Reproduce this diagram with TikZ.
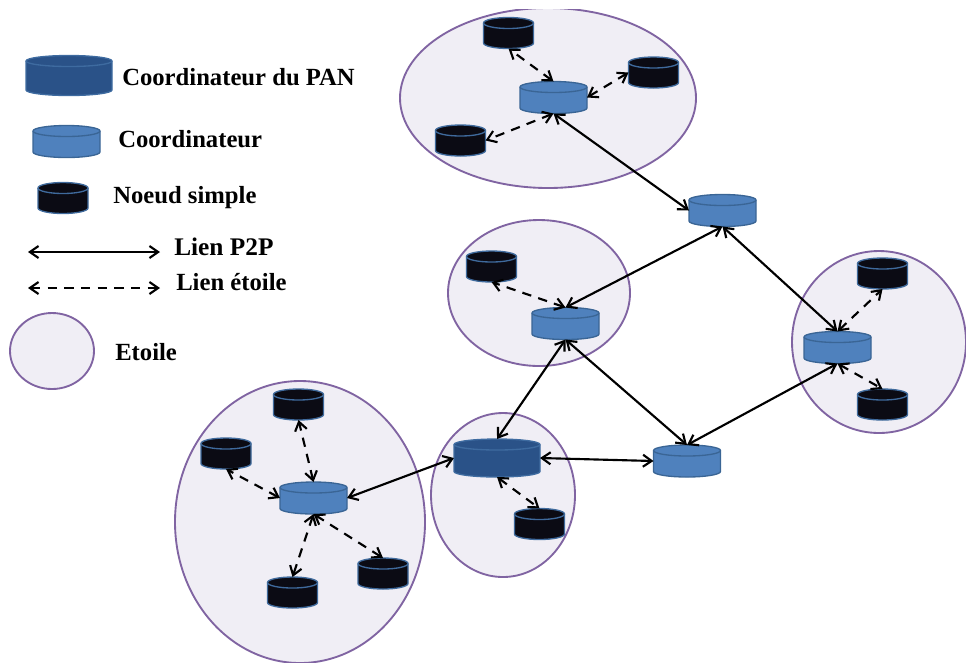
\documentclass[tikz,border=0pt]{standalone}
\usepackage{fontspec}
\setmainfont{Liberation Serif}
\usetikzlibrary{arrows.meta}
\definecolor{panfill}{HTML}{2A5288}
\definecolor{panedge}{HTML}{3E6BA0}
\definecolor{cofill}{HTML}{4F81BD}
\definecolor{coedge}{HTML}{3A6595}
\definecolor{nofill}{HTML}{0B0B14}
\definecolor{noedge}{HTML}{3F6A9C}
\definecolor{starfill}{HTML}{F0EEF5}
\definecolor{staredge}{HTML}{8064A2}
\tikzset{
  x=0.75pt,y=-0.75pt,
  anchorbox/.style={rectangle,inner sep=0pt,outer sep=0pt},
  p2p/.style={draw=black,line width=1.6pt,{Straight Barb[length=6.5pt,width=9pt]}-{Straight Barb[length=6.5pt,width=9pt]}},
  starlink/.style={p2p,dash pattern=on 7pt off 5.5pt},
  starzone/.style={draw=staredge,line width=1.4pt,fill=starfill},
  legend/.style={font=\bfseries\fontsize{18.5}{21}\selectfont,anchor=west,inner sep=0pt,text=black}
}
% name, cx, cy, width, height, fill, edge
\newcommand{\cyl}[7]{%
  \node[anchorbox,minimum width=#4*0.75pt,minimum height=#5*0.75pt] (#1) at (#2,#3) {};
  \draw[draw=#7,line width=1pt,fill=#6]
    (#1.north west) ++(0,5.5) arc[start angle=180,end angle=360,x radius=#4/2,y radius=5.5]
    -- ++(0,#5-11) arc[start angle=0,end angle=180,x radius=#4/2,y radius=5.5] -- cycle;
  \draw[draw=#7,line width=1pt] (#1.north west) ++(0,5.5) arc[start angle=180,end angle=0,x radius=#4/2,y radius=5.5];
}
\newcommand{\coord}[3]{\cyl{#1}{#2}{#3}{67}{32}{cofill}{coedge}}
\newcommand{\noeud}[3]{\cyl{#1}{#2}{#3}{50}{31}{nofill}{noedge}}
\begin{document}
\begin{tikzpicture}
\useasboundingbox (0,0) rectangle (966,662);
\begin{scope}
\clip (0,9) rectangle (966,662);
\path[starzone] (548,98) ellipse[x radius=148,y radius=90];
\path[starzone] (539,293) ellipse[x radius=91,y radius=73];
\path[starzone] (879,342) ellipse[x radius=87,y radius=91];
\path[starzone] (300,522) ellipse[x radius=125,y radius=141];
\path[starzone] (503,495) ellipse[x radius=72,y radius=82];
\end{scope}
\path[starzone] (52,351) ellipse[x radius=42,y radius=38];
% legend
\cyl{legpan}{69}{75.5}{86}{40}{panfill}{panedge}
\coord{legco}{66.5}{141.5}
\noeud{legno}{63}{198}
\node[legend] (t1) at (122,77) {Coordinateur du PAN};
\node[legend] (t2) at (118,139) {Coordinateur};
\node[legend] (t3) at (113,198) {Noeud simple};
\node[legend,font=\bfseries\fontsize{19}{21}\selectfont] (t4) at (174,247) {Lien P2P};
\node[legend] (t5) at (176,282) {Lien étoile};
\node[legend] (t6) at (115,352) {Etoile};
\coordinate (la) at (28,252);
\coordinate (lb) at (160,252);
\coordinate (lc) at (28,288);
\coordinate (ld) at (160,288);
\draw[p2p] (la) -- (lb);
\draw[starlink] (lc) -- (ld);
% coordinators
\coord{ctop}{553.5}{97.5}
\coord{crt}{722.5}{210.5}
\coord{cmid}{565.5}{323.5}
\coord{cright}{837.5}{347.5}
\coord{cbot}{687}{461}
\coord{cbl}{313.5}{498}
\cyl{pan}{497}{458}{86}{38}{panfill}{panedge}
% simple nodes
\noeud{a}{508.5}{33}
\noeud{b}{653.5}{72.5}
\noeud{c}{460.5}{140.5}
\noeud{d}{491.5}{266.5}
\noeud{e}{882.5}{273.5}
\noeud{f}{882.5}{404.5}
\noeud{g}{539.5}{524}
\noeud{h}{298.5}{404.5}
\noeud{i}{226}{453.5}
\noeud{j}{383}{573.5}
\noeud{k}{292.5}{592.5}
% P2P links
\draw[p2p] (ctop.south) -- (crt.west);
\draw[p2p] (crt.south) -- (cmid.north);
\draw[p2p] (crt.south) -- (cright.north);
\draw[p2p] (cmid.south) -- (pan.north);
\draw[p2p] (cmid.south) -- (cbot.north);
\draw[p2p] (pan.east) -- (cbot.west);
\draw[p2p] (cright.south) -- (cbot.north);
\draw[p2p] (cbl.east) -- (pan.west);
% star links
\draw[starlink] (ctop.north) -- (a.south);
\draw[starlink] (ctop.east) -- (b.west);
\draw[starlink] (ctop.south) -- (c.east);
\draw[starlink] (cmid.north) -- (d.south);
\draw[starlink] (cright.north) -- (e.south);
\draw[starlink] (cright.south) -- (f.north);
\draw[starlink] (pan.south) -- (g.north);
\draw[starlink] (cbl.north) -- (h.south);
\draw[starlink] (cbl.west) -- (i.south);
\draw[starlink] (cbl.south) -- (k.north);
\draw[starlink] (cbl.south) -- (j.north);
\end{tikzpicture}
\end{document}
